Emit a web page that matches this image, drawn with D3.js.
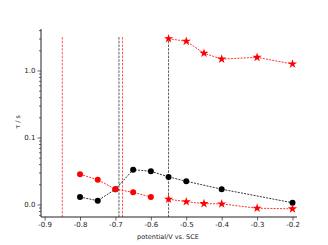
<!DOCTYPE html>
<html>
<head>
<meta charset="utf-8">
<script src="https://cdn.jsdelivr.net/npm/d3@7"></script>
<style>
body { margin: 0; background: #fff; }
svg text { font-family: "DejaVu Sans", sans-serif; }
</style>
</head>
<body>
<div class="chart"></div>
<script>
// data (tau in s, potential in V vs SCE)
var blackX = [-0.8, -0.75, -0.7, -0.65, -0.6, -0.55, -0.5, -0.4, -0.2];
var blackTau = [0.0129, 0.0114, 0.0169, 0.033, 0.0313, 0.0258, 0.0222, 0.0169, 0.0106];
var redX = [-0.8, -0.75, -0.7, -0.65, -0.6];
var redTau = [0.0282, 0.0234, 0.0169, 0.0152, 0.0129];
var starX = [-0.55, -0.5, -0.45, -0.4, -0.3, -0.2];
var starLowTau = [0.0120, 0.0110, 0.0103, 0.0102, 0.0088, 0.0086];
var starHighTau = [2.98, 2.73, 1.81, 1.48, 1.57, 1.25];
var redLines = [-0.85, -0.68];
var blackLines = [-0.69, -0.55];
var lineTop = 3.15;
var xTicks = [-0.9, -0.8, -0.7, -0.6, -0.5, -0.4, -0.3, -0.2];
var yTicks = [0.01, 0.1, 1];

var width = 328, height = 245;
var mLeft = 41, mRight = 297, mTop = 29, mBottom = 217;

var svg = d3.select(".chart").append("svg").attr("width", width).attr("height", height);

var x = d3.scaleLinear().domain([-0.9102, -0.1873]).range([mLeft, mRight]);
var y = d3.scaleLog().domain([0.0065, 4.16]).range([mBottom, mTop]);

// minor log ticks
var minor = [];
[0.001, 0.01, 0.1, 1].forEach(function(dec) {
	for (var k = 2; k <= 9; k++) {
		var v = dec * k;
		if (v >= 0.0065 && v <= 4.16) minor.push(v);
	}
});

// vertical dashed markers
redLines.forEach(function(v) {
	svg.append("line").attr("x1", x(v)).attr("x2", x(v)).attr("y1", y(lineTop)).attr("y2", mBottom)
		.attr("stroke", "#ff3030").attr("stroke-width", 0.8).attr("stroke-dasharray", "2.5,1.2");
});
blackLines.forEach(function(v) {
	svg.append("line").attr("x1", x(v)).attr("x2", x(v)).attr("y1", y(lineTop)).attr("y2", mBottom)
		.attr("stroke", "#333").attr("stroke-width", 0.8).attr("stroke-dasharray", "2.5,1.2");
});

// axes
var xAxis = d3.axisBottom(x).tickValues(xTicks).tickSize(3.5).tickPadding(2)
	.tickFormat(function(d) { return d.toFixed(1); });
var gx = svg.append("g").attr("transform", "translate(0," + mBottom + ")").call(xAxis);

var yAxis = d3.axisLeft(y).tickValues(yTicks).tickSize(3.5).tickPadding(2)
	.tickFormat(function(d) { return d.toFixed(1); });
var gy = svg.append("g").attr("transform", "translate(" + mLeft + ",0)").call(yAxis);
var gm = svg.append("g").attr("transform", "translate(" + mLeft + ",0)")
	.call(d3.axisLeft(y).tickValues(minor).tickSize(2).tickFormat(""));
gm.select(".domain").remove();

[gx, gy, gm].forEach(function(g) {
	g.selectAll("text").attr("font-size", 7).attr("fill", "#222");
	g.selectAll("line").attr("stroke", "#222").attr("stroke-width", 0.7);
	g.select(".domain").attr("stroke", "#222").attr("stroke-width", 1);
});
gx.select(".domain").attr("d", "M" + mLeft + ",0H" + mRight);
gy.select(".domain").attr("d", "M0," + mTop + "V" + mBottom);

svg.append("text").attr("x", 168).attr("y", 239).attr("text-anchor", "middle")
	.attr("font-size", 6.5).attr("fill", "#222").text("potential/V vs. SCE");
svg.append("text").attr("transform", "translate(20,122) rotate(-90)").attr("text-anchor", "middle")
	.attr("font-size", 6.5).attr("fill", "#222").text("τ / s");

// series
function series(xs, ys, color, shape) {
	var pts = xs.map(function(d, i) { return [d, ys[i]]; });
	var line = d3.line().x(function(d) { return x(d[0]); }).y(function(d) { return y(d[1]); });
	svg.append("path").datum(pts).attr("d", line).attr("fill", "none")
		.attr("stroke", color).attr("stroke-width", 0.8).attr("stroke-dasharray", "2,1.2");
	if (shape == "circle") {
		svg.selectAll(null).data(pts).enter().append("circle")
			.attr("cx", function(d) { return x(d[0]); }).attr("cy", function(d) { return y(d[1]); })
			.attr("r", 3).attr("fill", color);
	} else {
		var sym = d3.symbol().type(d3.symbolStar).size(26);
		svg.selectAll(null).data(pts).enter().append("path").attr("d", sym)
			.attr("transform", function(d) { return "translate(" + x(d[0]) + "," + y(d[1]) + ")"; })
			.attr("fill", color);
	}
}

series(blackX, blackTau, "#000", "circle");
series(redX, redTau, "#ff0000", "circle");
series(starX, starLowTau, "#ff0000", "star");
series(starX, starHighTau, "#ff0000", "star");
</script>
</body>
</html>
